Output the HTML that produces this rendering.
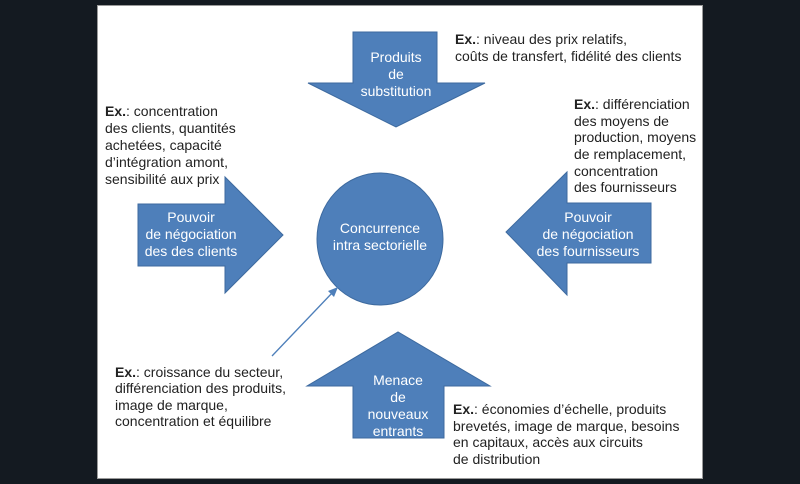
<!DOCTYPE html>
<html><head><meta charset="utf-8"><style>
html,body{margin:0;padding:0;background:#141a21;}
svg{display:block;}
text{font-family:"Liberation Sans",sans-serif;font-size:14px;}
.w{fill:#fff;}
.k{fill:#222;}
</style></head><body>
<svg width="800" height="484" viewBox="0 0 800 484">
<rect x="0" y="0" width="800" height="484" fill="#141a21"/>
<rect x="97.5" y="5.5" width="605" height="473" fill="#fff" stroke="#9a9a9a" stroke-width="1"/>
<g fill="#4e7fba" stroke="#3d6a9f" stroke-width="1">
<polygon points="353,32 437,32 437,83 485,83 396,127 308,83 353,83"/>
<polygon points="138,204 225,204 225,177 283,235 225,293 225,266 138,266"/>
<polygon points="651,203 567,203 567,172 506,232 567,295 567,263 651,263"/>
<polygon points="353,438 444,438 444,386 490,386 398,332 307,386 353,386"/>
<ellipse cx="380" cy="239" rx="63" ry="66"/>
</g>
<line x1="272" y1="356" x2="333" y2="292" stroke="#4e7fba" stroke-width="1.3"/>
<polygon points="338,287 328,291 334,297" fill="#4e7fba"/>
<g class="w" text-anchor="middle">
<text x="396" y="62">Produits</text>
<text x="396" y="79">de</text>
<text x="396" y="96">substitution</text>
<text x="191" y="222">Pouvoir</text>
<text x="191" y="239">de négociation</text>
<text x="191" y="256">des des clients</text>
<text x="380" y="233">Concurrence</text>
<text x="380" y="250">intra sectorielle</text>
<text x="588" y="222">Pouvoir</text>
<text x="588" y="239">de négociation</text>
<text x="588" y="256">des fournisseurs</text>
<text x="398" y="385">Menace</text>
<text x="398" y="402">de</text>
<text x="398" y="419">nouveaux</text>
<text x="398" y="436">entrants</text>
</g>
<g class="k">
<text x="455" y="44"><tspan font-weight="bold">Ex.</tspan>: niveau des prix relatifs,</text>
<text x="455" y="61">coûts de transfert, fidélité des clients</text>
<text x="105" y="116"><tspan font-weight="bold">Ex.</tspan>: concentration</text>
<text x="105" y="133">des clients, quantités</text>
<text x="105" y="150">achetées, capacité</text>
<text x="105" y="167">d’intégration amont,</text>
<text x="105" y="184">sensibilité aux prix</text>
<text x="574" y="109"><tspan font-weight="bold">Ex.</tspan>: différenciation</text>
<text x="574" y="126">des moyens de</text>
<text x="574" y="142">production, moyens</text>
<text x="574" y="159">de remplacement,</text>
<text x="574" y="176">concentration</text>
<text x="574" y="192">des fournisseurs</text>
<text x="115" y="377"><tspan font-weight="bold">Ex.</tspan>: croissance du secteur,</text>
<text x="115" y="393">différenciation des produits,</text>
<text x="115" y="410">image de marque,</text>
<text x="115" y="426">concentration et équilibre</text>
<text x="453" y="414"><tspan font-weight="bold">Ex.</tspan>: économies d’échelle, produits</text>
<text x="453" y="431">brevetés, image de marque, besoins</text>
<text x="453" y="447">en capitaux, accès aux circuits</text>
<text x="453" y="464">de distribution</text>
</g>
</svg>
</body></html>
